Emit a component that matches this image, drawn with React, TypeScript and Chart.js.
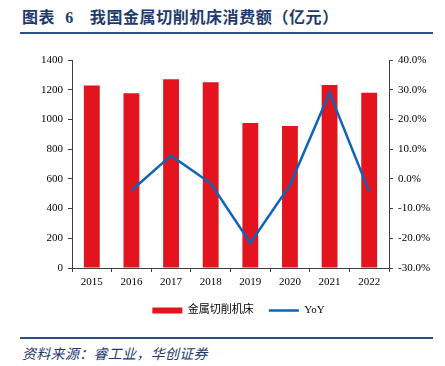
import React, { useEffect, useRef } from "react";
import { Chart, registerables } from "chart.js";

Chart.register(...registerables);

const categories = ["2015", "2016", "2017", "2018", "2019", "2020", "2021", "2022"];
const consumption = [1228, 1176, 1270, 1250, 976, 956, 1232, 1180];
const yoy = [null, -3.9, 7.8, -1.5, -21.6, -2.1, 29.0, -4.3];
const leftTicks = [0, 200, 400, 600, 800, 1000, 1200, 1400];
const rightTicks = [-30, -20, -10, 0, 10, 20, 30, 40];

const BAR_COLOR = "#E3141E";
const LINE_COLOR = "#0F63B8";
const NAVY = "#1E3A6C";
const RULE = "#2C4F8E";

export default function App() {
  const ref = useRef<HTMLCanvasElement | null>(null);

  useEffect(() => {
    if (!ref.current) return;
    const tickFont = { family: '"Liberation Serif", "Times New Roman", serif', size: 11 };
    const chart = new Chart(ref.current, {
      type: "bar",
      data: {
        labels: categories,
        datasets: [
          {
            type: "bar",
            label: "金属切削机床",
            data: consumption,
            backgroundColor: BAR_COLOR,
            borderWidth: 0,
            barPercentage: 0.4,
            categoryPercentage: 1,
            yAxisID: "y",
            order: 1,
            pointStyle: "rect",
          } as any,
          {
            type: "line",
            label: "YoY",
            data: yoy,
            borderColor: LINE_COLOR,
            backgroundColor: LINE_COLOR,
            borderWidth: 2.5,
            pointRadius: 0,
            tension: 0,
            yAxisID: "y1",
            order: 0,
            pointStyle: "line",
          } as any,
        ],
      },
      options: {
        animation: false,
        responsive: false,
        maintainAspectRatio: false,
        layout: { padding: { top: 20, left: 38, right: 6, bottom: 0 } },
        plugins: {
          tooltip: { enabled: false },
          legend: {
            position: "bottom",
            labels: {
              usePointStyle: true,
              pointStyleWidth: 30,
              boxHeight: 6,
              padding: 15,
              color: "#000",
              font: { family: '"Liberation Serif", "Noto Sans CJK SC", serif', size: 11 },
              sort: (a: any, b: any) => a.datasetIndex - b.datasetIndex,
            },
          },
        },
        scales: {
          x: {
            grid: { display: true, drawOnChartArea: false, drawTicks: true, tickLength: 4, color: "#404040", offset: true },
            border: { display: true, color: "#404040", width: 1 },
            ticks: { color: "#000", font: tickFont, padding: 4, maxRotation: 0 },
            afterFit: (s: any) => { s.height = 22; },
          },
          y: {
            position: "left",
            min: 0,
            max: 1400,
            afterBuildTicks: (s: any) => { s.ticks = leftTicks.map((v) => ({ value: v })); },
            grid: { drawOnChartArea: false, drawTicks: true, tickLength: 4, color: "#404040" },
            border: { display: true, color: "#404040", width: 1 },
            ticks: { color: "#000", font: tickFont, padding: 5, callback: (v: any) => String(v) },
            afterFit: (s: any) => { s.width = 34; },
          },
          y1: {
            position: "right",
            min: -30,
            max: 40,
            afterBuildTicks: (s: any) => { s.ticks = rightTicks.map((v) => ({ value: v })); },
            grid: { drawOnChartArea: false, drawTicks: true, tickLength: 4, color: "#404040" },
            border: { display: true, color: "#404040", width: 1 },
            ticks: {
              color: "#000",
              font: tickFont,
              padding: 5,
              callback: (v: any) => Number(v).toFixed(1) + "%",
            },
            afterFit: (s: any) => { s.width = 50; },
          },
        },
      } as any,
    });
    return () => chart.destroy();
  }, []);

  const cjk = '"Noto Sans CJK SC", sans-serif';

  return (
    <div style={{ position: "fixed", left: 0, top: 0, width: 445, height: 366, background: "#fff", overflow: "hidden" }}>
      <div
        style={{
          position: "absolute",
          left: 22,
          top: 6,
          lineHeight: "20px",
          fontSize: 16,
          fontWeight: 700,
          color: NAVY,
          fontFamily: cjk,
          whiteSpace: "nowrap",
          letterSpacing: "0.6px",
        }}
      >
        <span>图表</span>
        <span style={{ marginLeft: 10, fontFamily: '"Liberation Serif", serif' }}>6</span>
        <span style={{ marginLeft: 16 }}>我国金属切削机床消费额（亿元）</span>
      </div>
      <div style={{ position: "absolute", left: 20, top: 32, width: 413, height: 2, background: RULE }} />
      <canvas ref={ref} width={445} height={286} style={{ position: "absolute", left: 0, top: 40, width: 445, height: 286 }} />
      <div style={{ position: "absolute", left: 20, top: 337, width: 413, height: 2, background: RULE }} />
      <div
        style={{
          position: "absolute",
          left: 22,
          top: 344,
          lineHeight: "18px",
          fontSize: 14,
          fontStyle: "italic",
          color: NAVY,
          fontFamily: cjk,
          whiteSpace: "nowrap",
          letterSpacing: "0.3px",
        }}
      >
        资料来源：睿工业，华创证券
      </div>
    </div>
  );
}
